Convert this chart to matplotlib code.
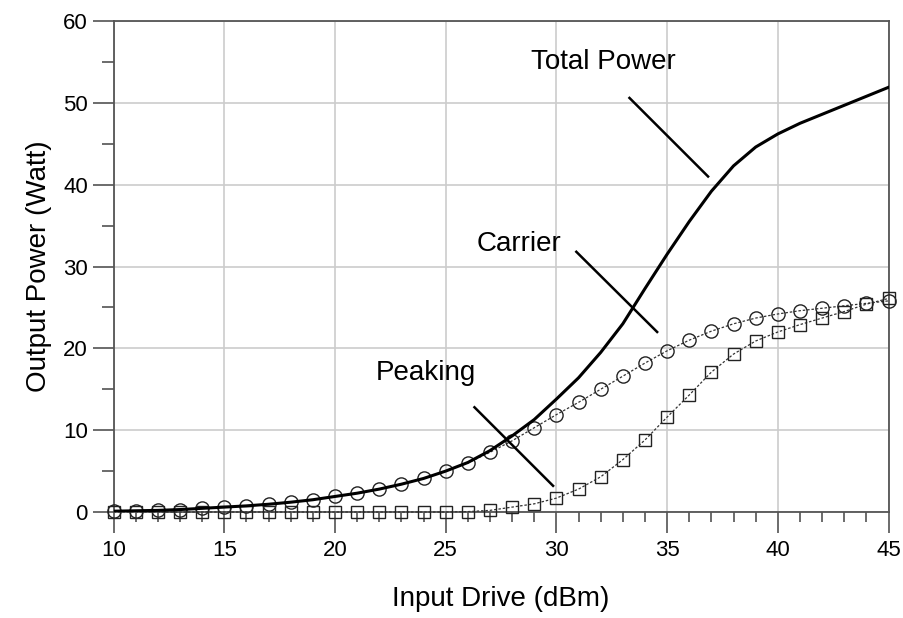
import matplotlib
matplotlib.use("Agg")
import matplotlib.pyplot as plt
from matplotlib.ticker import MultipleLocator

# Input drive sweep (dBm) and output power of each branch (W)
drive_dbm = list(range(10, 46))

carrier_w = [
    0.1, 0.15, 0.2, 0.3, 0.45, 0.6, 0.75, 0.95, 1.2, 1.5,
    1.9, 2.3, 2.8, 3.4, 4.1, 5.0, 6.0, 7.3, 8.7, 10.3,
    11.9, 13.4, 15.0, 16.6, 18.2, 19.7, 21.0, 22.1, 23.0, 23.7,
    24.2, 24.6, 24.9, 25.2, 25.5, 25.8,
]
peaking_w = [
    0.0, 0.0, 0.0, 0.0, 0.0, 0.0, 0.0, 0.0, 0.0, 0.0,
    0.0, 0.0, 0.0, 0.0, 0.0, 0.0, 0.05, 0.2, 0.6, 1.0,
    1.7, 2.8, 4.3, 6.4, 8.8, 11.6, 14.3, 17.1, 19.3, 20.9,
    22.0, 22.9, 23.7, 24.5, 25.4, 26.1,
]
total_w = [
    0.1, 0.15, 0.2, 0.3, 0.45, 0.6, 0.75, 0.95, 1.2, 1.5,
    1.9, 2.3, 2.8, 3.4, 4.1, 5.0, 6.05, 7.5, 9.3, 11.3,
    13.8, 16.4, 19.5, 23.0, 27.3, 31.5, 35.5, 39.2, 42.3, 44.6,
    46.2, 47.5, 48.6, 49.7, 50.8, 51.9,
]

# Curve names with text anchor and leader-line endpoints (data coords)
labels = ["Total Power", "Carrier", "Peaking"]
label_xy = [(32.1, 55.0), (28.3, 32.7), (24.1, 17.0)]
leader_start = [(33.3, 50.6), (30.9, 31.8), (26.3, 12.8)]
leader_end = [(36.85, 41.0), (34.55, 22.0), (29.85, 3.2)]

plt.rcParams.update(
    {
        "font.family": ["Liberation Sans", "DejaVu Sans"],
        "font.size": 16,
    }
)

fig = plt.figure(figsize=(9.04, 6.18), dpi=100)
ax = fig.add_axes([0.1256, 0.1715, 0.8573, 0.7945])

ax.grid(True, which="major", color="#cccccc", linewidth=1.2, zorder=0)
ax.set_axisbelow(True)

ax.plot(drive_dbm, total_w, color="black", linewidth=2.2, zorder=4)
ax.plot(
    drive_dbm, carrier_w, color="#333333", linewidth=0.9, linestyle=(0, (2, 1.5)),
    marker="o", markersize=9.5, markerfacecolor="none", markeredgecolor="#222222",
    markeredgewidth=1.0, clip_on=False, zorder=3,
)
ax.plot(
    drive_dbm, peaking_w, color="#333333", linewidth=0.9, linestyle=(0, (2, 1.5)),
    marker="s", markersize=8.5, markerfacecolor="none", markeredgecolor="#222222",
    markeredgewidth=1.0, clip_on=False, zorder=3,
)

for name, txt, p0, p1 in zip(labels, label_xy, leader_start, leader_end):
    ax.text(txt[0], txt[1], name, fontsize=20, ha="center", va="center")
    ax.plot([p0[0], p1[0]], [p0[1], p1[1]], color="black", linewidth=1.8, zorder=5)

ax.set_xlim(10, 45)
ax.set_ylim(0, 60)
ax.xaxis.set_major_locator(MultipleLocator(5))
ax.xaxis.set_minor_locator(MultipleLocator(1))
ax.yaxis.set_major_locator(MultipleLocator(10))
ax.yaxis.set_minor_locator(MultipleLocator(5))
ax.tick_params(axis="both", which="major", direction="out", length=15, width=1.1,
               color="#444444", labelsize=16)
ax.tick_params(axis="x", which="major", pad=5)
ax.tick_params(axis="x", which="minor", direction="out", length=7, width=1.1, color="#444444")
ax.tick_params(axis="y", which="minor", direction="out", length=9, width=1.1, color="#444444")

for side in ["left", "bottom", "top", "right"]:
    ax.spines[side].set_color("#555555")
    ax.spines[side].set_linewidth(1.3)

ax.set_xlabel("Input Drive (dBm)", fontsize=20, labelpad=18)
ax.set_ylabel("Output Power (Watt)", fontsize=20, labelpad=8)

fig.savefig("out.png", dpi=100)
